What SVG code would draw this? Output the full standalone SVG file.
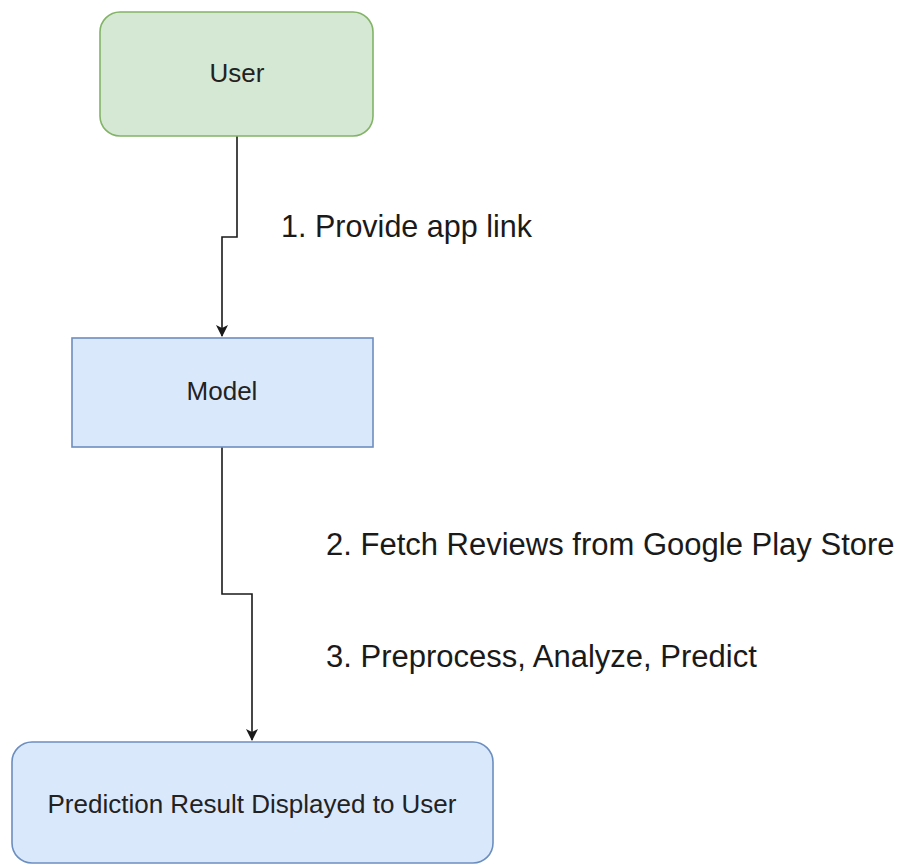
<svg xmlns="http://www.w3.org/2000/svg" width="902" height="865" viewBox="0 0 902 865">
<style>
.node-text{font-family:"Liberation Sans",Arial,sans-serif;font-size:26px;fill:#222;text-anchor:middle}
.label{font-family:"Liberation Sans",Arial,sans-serif;font-size:31px;fill:#1a1a1a}
.edge{fill:none;stroke:#1a1a1a;stroke-width:1.6}
.green{fill:#d5e8d4;stroke:#82b366;stroke-width:1.6}
.blue{fill:#dae8fc;stroke:#6c8ebf;stroke-width:1.6}
</style>
<defs>
<marker id="arrow" markerWidth="12" markerHeight="14" refX="11" refY="6" orient="auto" markerUnits="userSpaceOnUse">
<path d="M0,0 L12,6 L0,12 L3,6 Z" fill="#1a1a1a"/>
</marker>
</defs>
<rect width="902" height="865" fill="#ffffff"/>
<g id="connectors">
<path class="edge" d="M237,136 V237 H222 V336" marker-end="url(#arrow)"/>
<path class="edge" d="M222,447 V594 H252 V740" marker-end="url(#arrow)"/>
</g>
<g id="user">
<rect class="green" x="100" y="12" width="273" height="124" rx="20"/>
<text class="node-text" x="237" y="82">User</text>
</g>
<g id="model">
<rect class="blue" x="72" y="338" width="301" height="109"/>
<text class="node-text" x="222" y="400">Model</text>
</g>
<g id="result">
<rect class="blue" x="12" y="742" width="481" height="121" rx="20"/>
<text class="node-text" x="252" y="813">Prediction Result Displayed to User</text>
</g>
<g id="labels">
<text class="label" x="281" y="237" style="font-size:30.5px">1. Provide app link</text>
<text class="label" x="326" y="555">2. Fetch Reviews from Google Play Store</text>
<text class="label" x="326" y="667">3. Preprocess, Analyze, Predict</text>
</g>
</svg>
